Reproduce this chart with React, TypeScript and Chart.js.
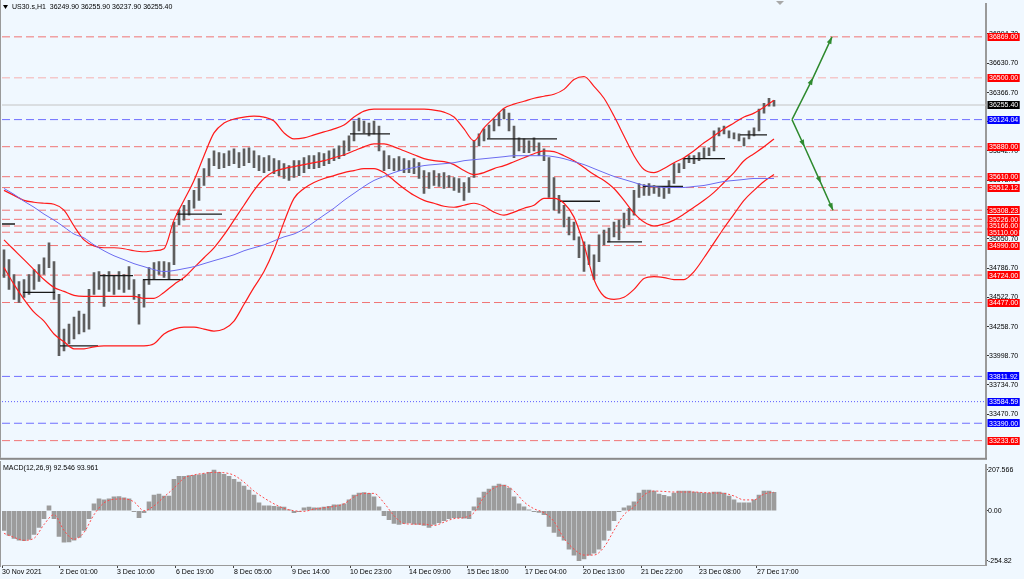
import React, { useEffect, useRef } from 'react';
import { Chart, registerables } from 'chart.js';

Chart.register(...registerables);
Chart.defaults.font.family = 'Liberation Sans';

const headerText = 'US30.s,H1  36249.90 36255.90 36237.90 36255.40';
const macdHeaderText = 'MACD(12,26,9) 92.546 93.961';

// ---- price bars (H1, one entry per drawn bar) ----
const barHigh = [
  34952, 34863, 34729, 34666, 34684, 34729, 34773, 34818, 34880, 35014,
  34845, 34551, 34238, 34283, 34345, 34399, 34372, 34595, 34747, 34756,
  34729, 34756, 34720, 34756, 34729, 34800, 34684, 34551, 34684, 34791,
  34836, 34845, 34845, 34836, 35201, 35309, 35353, 35397, 35487, 35594,
  35683, 35772, 35843, 35826, 35817, 35843, 35861, 35826, 35861, 35870,
  35843, 35799, 35781, 35799, 35772, 35754, 35727, 35710, 35754, 35754,
  35781, 35799, 35799, 35826, 35817, 35843, 35861, 35888, 35933, 35977,
  36111, 36138, 36111, 36093, 36111, 36066, 35843, 35799, 35772, 35790,
  35772, 35754, 35772, 35736, 35665, 35647, 35665, 35638, 35647, 35620,
  35603, 35594, 35558, 35603, 35933, 35995, 36040, 36075, 36129, 36182,
  36218, 36182, 36066, 35959, 35950, 35933, 35959, 35915, 35861, 35781,
  35603, 35442, 35353, 35246, 35201, 35068, 35023, 34996, 34907, 35086,
  35130, 35148, 35201, 35219, 35282, 35326, 35487, 35549, 35540, 35549,
  35531, 35522, 35513, 35576, 35727, 35727, 35772, 35799, 35799, 35826,
  35870, 35870, 36022, 36049, 36066, 36022, 36004, 35995, 35959, 36022,
  36049, 36218, 36271, 36316, 36298,
];
const barLow = [
  34702, 34595, 34506, 34479, 34524, 34551, 34595, 34666, 34729, 34791,
  34506, 33998, 34042, 34105, 34149, 34194, 34212, 34238, 34551, 34595,
  34443, 34577, 34551, 34595, 34568, 34595, 34506, 34283, 34435, 34640,
  34684, 34729, 34702, 34684, 34818, 35175, 35219, 35264, 35326, 35397,
  35531, 35620, 35710, 35683, 35692, 35710, 35727, 35692, 35710, 35736,
  35692, 35665, 35647, 35665, 35638, 35620, 35594, 35576, 35603, 35620,
  35647, 35683, 35683, 35692, 35710, 35727, 35754, 35772, 35799, 35843,
  35933, 36022, 36004, 35977, 35995, 35843, 35665, 35683, 35665, 35665,
  35647, 35647, 35638, 35594, 35460, 35504, 35531, 35522, 35504, 35513,
  35487, 35469, 35397, 35469, 35603, 35888, 35933, 35959, 36022, 36066,
  36129, 36022, 35781, 35843, 35826, 35826, 35843, 35799, 35754, 35424,
  35309, 35282, 35157, 35086, 35041, 34880, 34756, 34818, 34684, 34845,
  34996, 35023, 35068, 35041, 35148, 35175, 35264, 35424, 35442, 35442,
  35460, 35433, 35415, 35460, 35549, 35647, 35683, 35736, 35727, 35754,
  35781, 35799, 35843, 35977, 35995, 35959, 35950, 35933, 35888, 35950,
  35977, 36022, 36182, 36245, 36245,
];

// ---- MACD histogram (one entry per bar) ----
const macdHist = [
  -100, -125, -140, -150, -152, -145, -120, -85, -40, 25,
  -40, -130, -160, -158, -150, -135, -100, -40, 35, 60,
  55, 60, 70, 72, 65, 60, -5, -35, -10, 45,
  80, 85, 75, 75, 160, 175, 175, 178, 180, 182,
  188, 195, 207, 195, 185, 175, 160, 145, 125, 105,
  80, 40, 25, 25, 22, 20, 18, 5, -10, -5,
  15, 18, 15, 15, 18, 22, 30, 30, 35, 55,
  80, 90, 92, 88, 70, 20, -25, -45, -65, -70,
  -65, -62, -68, -70, -75, -85, -70, -60, -50, -40,
  -35, -35, -38, -40, 20, 65, 95, 110, 125, 135,
  130, 115, 70, 35, 20, 5, -5, -8, -20, -80,
  -110, -130, -150, -195, -225, -254, -245, -225, -215, -195,
  -150, -100, -50, -5, 15, 25, 45, 90, 105, 105,
  100, 85, 78, 72, 90, 100, 100, 100, 95, 92,
  90, 90, 95, 95, 90, 75, 55, 40, 40, 40,
  55, 80, 100, 100, 93,
];

// ---- overlays, one entry every OVERLAY_STEP bars ----
const OVERLAY_STEP = 2;
const bbUpper = [
  35487, 35442, 35397, 35380, 35371, 35362, 35309, 35166, 35041, 34987,
  34970, 34970, 34961, 34943, 34934, 34943, 34961, 35219, 35397, 35576,
  35799, 36004, 36093, 36129, 36147, 36156, 36147, 36111, 36004, 35950,
  35959, 35986, 36013, 36040, 36075, 36147, 36200, 36218, 36218, 36218,
  36218, 36218, 36218, 36209, 36191, 36147, 36040, 35933, 36050, 36140,
  36227, 36263, 36289, 36316, 36334, 36352, 36396, 36485, 36512, 36423,
  36316, 36156, 35977, 35799, 35674, 35647, 35683, 35736, 35781, 35843,
  35915, 35977, 36040, 36093, 36147, 36182, 36236, 36298,
];
const bbMiddle = [
  35041, 34952, 34863, 34773, 34684, 34613, 34577, 34542, 34533, 34533,
  34533, 34533, 34533, 34533, 34515, 34515, 34568, 34640, 34702, 34791,
  34880, 34970, 35086, 35219, 35353, 35487, 35594, 35656, 35683, 35701,
  35719, 35736, 35754, 35781, 35808, 35843, 35879, 35906, 35906, 35879,
  35843, 35808, 35772, 35754, 35745, 35719, 35665, 35629, 35647, 35683,
  35710, 35745, 35781, 35817, 35843, 35835, 35799, 35754, 35692, 35629,
  35576, 35504, 35397, 35282, 35201, 35166, 35184, 35219, 35273, 35335,
  35397, 35469, 35558, 35647, 35754, 35817, 35879, 35950,
];
const bbLower = [
  34791, 34640, 34506, 34390, 34310, 34194, 34123, 34060, 34060, 34078,
  34087, 34087, 34087, 34087, 34087, 34105, 34194, 34238, 34256, 34256,
  34238, 34220, 34238, 34310, 34461, 34613, 34756, 34952, 35201, 35415,
  35504, 35558, 35594, 35620, 35647, 35665, 35683, 35683, 35647, 35576,
  35504, 35442, 35397, 35371, 35344, 35335, 35353, 35371, 35344, 35291,
  35264, 35291, 35326, 35353, 35415, 35415, 35371, 35246, 34996, 34684,
  34533, 34506, 34524, 34595, 34693, 34711, 34702, 34684, 34684, 34756,
  34880, 35014, 35148, 35273, 35397, 35487, 35567, 35629,
];
const maLine = [
  35504, 35451, 35389, 35335, 35273, 35219, 35157, 35094, 35059, 34996,
  34943, 34898, 34863, 34827, 34800, 34773, 34756, 34765, 34782, 34800,
  34827, 34854, 34880, 34907, 34943, 34970, 34996, 35032, 35068, 35094,
  35139, 35201, 35264, 35326, 35397, 35460, 35522, 35576, 35612, 35647,
  35674, 35692, 35710, 35719, 35727, 35736, 35754, 35763, 35772, 35781,
  35790, 35799, 35799, 35799, 35799, 35790, 35772, 35745, 35719, 35683,
  35647, 35612, 35585, 35558, 35531, 35522, 35513, 35513, 35513, 35522,
  35531, 35549, 35567, 35576, 35585, 35594, 35594, 35594,
];
const macdSignal = [
  -115, -135, -150, -140, -70, -20, -100, -145, -110, -20,
  40, 58, 60, 45, 0, 25, 70, 115, 165, 182,
  190, 195, 193, 180, 145, 100, 65, 35, 12, 0,
  -3, 8, 15, 22, 35, 70, 88, 88, 40, -25,
  -65, -68, -68, -75, -58, -40, -35, -10, 70, 115,
  128, 100, 45, 10, -10, -55, -140, -195, -225, -225,
  -185, -100, -20, 20, 80, 100, 98, 95, 95, 95,
  92, 90, 88, 75, 55, 55, 85, 94,
];

// ---- horizontal levels ----
const levelValues = [
  36869.0, 36500.0, 36124.04, 35880.0, 35610.0, 35512.12, 35308.23, 35226.0, 35166.0,
  35110.0, 34990.0, 34724.0, 34477.0, 33811.92, 33584.59, 33390.0, 33233.63,
];
const levelKinds = [
  'red', 'pink', 'blue', 'red', 'red', 'red', 'red', 'red', 'red',
  'red', 'red', 'red', 'red', 'blue', 'dot', 'blue', 'red',
];
const lastPrice = 36255.4;

// ---- short support / resistance segments (bar index range, price) ----
const srStart = [-0.4, 3.8, 11.2, 19.2, 27.8, 34.4, 69.2, 96.6, 111.2, 120.6, 127.8, 135.8, 147.2];
const srEnd = [2.2, 10.2, 18.8, 25.8, 35.8, 43.6, 77.2, 110.6, 119.2, 127.6, 135.8, 144.2, 152.6];
const srPrice = [35184, 34568, 34087, 34720, 34684, 35273, 35995, 35950, 35389, 35023, 35522, 35772, 35986];

// ---- projection arrows ----
const projUpX = [157.6, 161.8, 165.6];
const projUpY = [36124.04, 36500, 36869];
const projDownX = [157.6, 160.1, 163.4, 165.8];
const projDownY = [36124.04, 35880, 35550, 35308.23];

// ---- axis ticks ----
const priceTicks = [
  36894.7, 36630.7, 36366.7, 36102.7, 35842.7, 35578.7, 35314.7, 35050.7,
  34786.7, 34522.7, 34258.7, 33998.7, 33734.7, 33470.7,
];
const macdTicks = [-254.82, 0, 207.566];
const macdTickLabels = ['-254.82', '0.00', '207.566'];
const timeTickPos = [-0.4, 11.2, 22.6, 34.4, 46, 57.6, 69.2, 81, 92.6, 104.2, 115.8, 127.4, 139, 150.6];
const timeTickLabels = [
  '30 Nov 2021', '2 Dec 01:00', '3 Dec 10:00', '6 Dec 19:00', '8 Dec 05:00', '9 Dec 14:00',
  '10 Dec 23:00', '14 Dec 09:00', '15 Dec 18:00', '17 Dec 04:00', '20 Dec 13:00',
  '21 Dec 22:00', '23 Dec 08:00', '27 Dec 17:00',
];

// ---- view ranges ----
const X_MIN = -0.4;
const X_MAX = 196.4;
const PRICE_MIN = 33079;
const PRICE_MAX = 37163;
const MACD_MIN = -275.5;
const MACD_MAX = 231.2;

const FONT = { family: 'Liberation Sans', size: 7 };
const FONT_CSS = '7px "Liberation Sans"';
const BG = '#f0f8ff';
const FRAME = '#9a9a9a';

const levelStyle: Record<string, { line: string; dash: number[]; box: string }> = {
  red: { line: '#f07575', dash: [8, 4], box: '#ff0000' },
  pink: { line: '#f6b0b0', dash: [8, 4], box: '#ff0000' },
  blue: { line: '#6f6fff', dash: [8, 4], box: '#0000ff' },
  dot: { line: '#5a5aff', dash: [1, 2], box: '#0000ff' },
};

const overlay = (arr: number[]) => arr.map((v, k) => ({ x: k * OVERLAY_STEP, y: v }));

function lineDs(data: any[], color: string, width: number, extra: any = {}) {
  return {
    type: 'line' as const,
    data,
    borderColor: color,
    borderWidth: width,
    pointRadius: 0,
    fill: false,
    order: 1,
    ...extra,
  };
}

function drawArrowHeads(ctx: CanvasRenderingContext2D, chart: any, xs: number[], ys: number[]) {
  const sx = chart.scales.x;
  const sy = chart.scales.y;
  for (let j = 1; j < xs.length; j++) {
    const px = sx.getPixelForValue(xs[j]);
    const py = sy.getPixelForValue(ys[j]);
    const qx = sx.getPixelForValue(xs[j - 1]);
    const qy = sy.getPixelForValue(ys[j - 1]);
    const len = Math.hypot(px - qx, py - qy) || 1;
    const dx = (px - qx) / len;
    const dy = (py - qy) / len;
    const bx = px - dx * 7;
    const by = py - dy * 7;
    ctx.beginPath();
    ctx.moveTo(px, py);
    ctx.lineTo(bx - dy * 2.5, by + dx * 2.5);
    ctx.lineTo(bx + dy * 2.5, by - dx * 2.5);
    ctx.closePath();
    ctx.fill();
  }
}

const mainDecor = {
  id: 'mainDecor',
  afterDraw(chart: any) {
    const ctx: CanvasRenderingContext2D = chart.ctx;
    const { right, bottom } = chart.chartArea;
    const sy = chart.scales.y;
    const sx = chart.scales.x;
    ctx.save();
    // frame
    ctx.fillStyle = FRAME;
    ctx.fillRect(0, 0, 1, bottom);
    ctx.fillStyle = '#8a8a8a';
    ctx.fillRect(0, bottom, right + 1, 2);

    // header
    ctx.fillStyle = '#000';
    ctx.beginPath();
    ctx.moveTo(3, 5);
    ctx.lineTo(8, 5);
    ctx.lineTo(5.5, 9);
    ctx.closePath();
    ctx.fill();
    ctx.font = FONT_CSS;
    ctx.textBaseline = 'middle';
    ctx.textAlign = 'left';
    ctx.fillText(headerText, 12, 7.5);

    // shift marker
    const shx = sx.getPixelForValue(155.2);
    ctx.fillStyle = '#a8a8a8';
    ctx.beginPath();
    ctx.moveTo(shx - 4, 1);
    ctx.lineTo(shx + 4, 1);
    ctx.lineTo(shx, 5);
    ctx.closePath();
    ctx.fill();

    // arrow heads
    ctx.fillStyle = '#2f8a2f';
    drawArrowHeads(ctx, chart, projUpX, projUpY);
    drawArrowHeads(ctx, chart, projDownX, projDownY);

    // level labels
    const drawBox = (v: number, bg: string) => {
      const y = sy.getPixelForValue(v);
      const txt = v.toFixed(2);
      const w = ctx.measureText(txt).width + 3;
      ctx.fillStyle = bg;
      ctx.fillRect(right + 1.5, Math.round(y) - 4, w, 8);
      ctx.fillStyle = '#ffffff';
      ctx.fillText(txt, right + 3, y + 0.5);
    };
    ctx.font = FONT_CSS;
    ctx.textBaseline = 'middle';
    levelValues.forEach((v, i) => drawBox(v, levelStyle[levelKinds[i]].box));
    drawBox(lastPrice, '#000000');
    ctx.restore();
  },
};

const macdDecor = {
  id: 'macdDecor',
  afterDraw(chart: any) {
    const ctx: CanvasRenderingContext2D = chart.ctx;
    const { bottom } = chart.chartArea;
    ctx.save();
    ctx.fillStyle = FRAME;
    ctx.fillRect(0, 0, 1, bottom + 2);
    ctx.fillStyle = '#000';
    ctx.font = FONT_CSS;
    ctx.textBaseline = 'middle';
    ctx.textAlign = 'left';
    ctx.fillText(macdHeaderText, 3, 7);
    ctx.restore();
  },
};

function mainConfig(): any {
  const datasets: any[] = [];
  // level lines
  levelValues.forEach((v, i) => {
    const st = levelStyle[levelKinds[i]];
    datasets.push(
      lineDs(
        [
          { x: X_MIN, y: v },
          { x: X_MAX, y: v },
        ],
        st.line,
        1,
        { borderDash: st.dash, order: 5 }
      )
    );
  });
  datasets.push(
    lineDs(
      [
        { x: X_MIN, y: lastPrice },
        { x: X_MAX, y: lastPrice },
      ],
      '#c4c4c4',
      1,
      { order: 5 }
    )
  );
  // price bars
  datasets.push({
    type: 'bar',
    data: barHigh.map((h, i) => ({ x: i, y: [barLow[i], h] })),
    backgroundColor: '#5e5e5e',
    borderWidth: 0,
    barThickness: 2,
    grouped: false,
    order: 4,
  });
  // support / resistance segments
  srPrice.forEach((p, i) => {
    datasets.push(
      lineDs(
        [
          { x: srStart[i], y: p },
          { x: srEnd[i], y: p },
        ],
        '#1a1a1a',
        1.3,
        { order: 2 }
      )
    );
  });
  // bands & MA
  datasets.push(lineDs(overlay(maLine), '#6b6bf0', 1, { cubicInterpolationMode: 'monotone' }));
  datasets.push(lineDs(overlay(bbUpper), '#ff1a1a', 1.2, { cubicInterpolationMode: 'monotone' }));
  datasets.push(lineDs(overlay(bbMiddle), '#ff1a1a', 1.2, { cubicInterpolationMode: 'monotone' }));
  datasets.push(lineDs(overlay(bbLower), '#ff1a1a', 1.2, { cubicInterpolationMode: 'monotone' }));
  // projections
  datasets.push(lineDs(projUpX.map((x, i) => ({ x, y: projUpY[i] })), '#2f8a2f', 1.5));
  datasets.push(lineDs(projDownX.map((x, i) => ({ x, y: projDownY[i] })), '#2f8a2f', 1.5));

  return {
    type: 'line',
    data: { datasets },
    options: {
      animation: false,
      responsive: false,
      devicePixelRatio: 1,
      events: [],
      layout: { padding: { left: 2, top: 2, right: 0, bottom: 2 } },
      plugins: { legend: { display: false }, tooltip: { enabled: false }, title: { display: false } },
      scales: {
        x: { type: 'linear', min: X_MIN, max: X_MAX, offset: false, display: false, grid: { offset: false } },
        y: {
          type: 'linear',
          position: 'right',
          min: PRICE_MIN,
          max: PRICE_MAX,
          afterBuildTicks: (s: any) => {
            s.ticks = priceTicks.map((v) => ({ value: v }));
          },
          afterFit: (s: any) => {
            s.width = 38;
          },
          ticks: {
            autoSkip: false,
            padding: 0,
            color: '#000',
            font: FONT,
            callback: (v: any) => Number(v).toFixed(2),
          },
          grid: { display: true, drawOnChartArea: false, drawTicks: true, tickLength: 3, color: '#333' },
          border: { display: true, color: FRAME, width: 2 },
        },
      },
    },
    plugins: [mainDecor],
  };
}

function macdConfig(): any {
  return {
    type: 'line',
    data: {
      datasets: [
        {
          type: 'bar',
          data: macdHist.map((v, i) => ({ x: i, y: v })),
          backgroundColor: '#9c9c9c',
          borderWidth: 0,
          barThickness: 4,
          grouped: false,
          order: 3,
        },
        lineDs(overlay(macdSignal), '#ff4a4a', 1, {
          borderDash: [2, 2],
          cubicInterpolationMode: 'monotone',
        }),
      ],
    },
    options: {
      animation: false,
      responsive: false,
      devicePixelRatio: 1,
      events: [],
      layout: { padding: { left: 2, top: 1, right: 0, bottom: 0 } },
      plugins: { legend: { display: false }, tooltip: { enabled: false } },
      scales: {
        x: {
          type: 'linear',
          min: X_MIN,
          max: X_MAX,
          offset: false,
          position: 'bottom',
          afterBuildTicks: (s: any) => {
            s.ticks = timeTickPos.map((v) => ({ value: v }));
          },
          afterFit: (s: any) => {
            s.height = 14;
          },
          ticks: {
            autoSkip: false,
            maxRotation: 0,
            minRotation: 0,
            align: 'start',
            padding: 0,
            color: '#000',
            font: FONT,
            callback: (_v: any, idx: number) => timeTickLabels[idx],
          },
          grid: { display: true, offset: false, drawOnChartArea: false, drawTicks: true, tickLength: 3, color: '#444' },
          border: { display: true, color: FRAME, width: 1 },
        },
        y: {
          type: 'linear',
          position: 'right',
          min: MACD_MIN,
          max: MACD_MAX,
          afterBuildTicks: (s: any) => {
            s.ticks = macdTicks.map((v) => ({ value: v }));
          },
          afterFit: (s: any) => {
            s.width = 38;
          },
          ticks: {
            autoSkip: false,
            padding: 0,
            color: '#000',
            font: FONT,
            callback: (_v: any, idx: number) => macdTickLabels[idx],
          },
          grid: { display: true, drawOnChartArea: false, drawTicks: true, tickLength: 2, color: '#444' },
          border: { display: true, color: FRAME, width: 2 },
        },
      },
    },
    plugins: [macdDecor],
  };
}

export default function App() {
  const mainRef = useRef<HTMLCanvasElement>(null);
  const macdRef = useRef<HTMLCanvasElement>(null);

  useEffect(() => {
    const main = new Chart(mainRef.current as HTMLCanvasElement, mainConfig());
    const macd = new Chart(macdRef.current as HTMLCanvasElement, macdConfig());
    return () => {
      main.destroy();
      macd.destroy();
    };
  }, []);

  return (
    <div
      style={{
        position: 'fixed',
        left: 0,
        top: 0,
        width: 1024,
        height: 579,
        background: BG,
        overflow: 'hidden',
      }}
    >
      <canvas
        ref={mainRef}
        width={1024}
        height={462}
        style={{ position: 'absolute', left: 0, top: 0, width: 1024, height: 462 }}
      />
      <canvas
        ref={macdRef}
        width={1024}
        height={118}
        style={{ position: 'absolute', left: 0, top: 461, width: 1024, height: 118 }}
      />
    </div>
  );
}
